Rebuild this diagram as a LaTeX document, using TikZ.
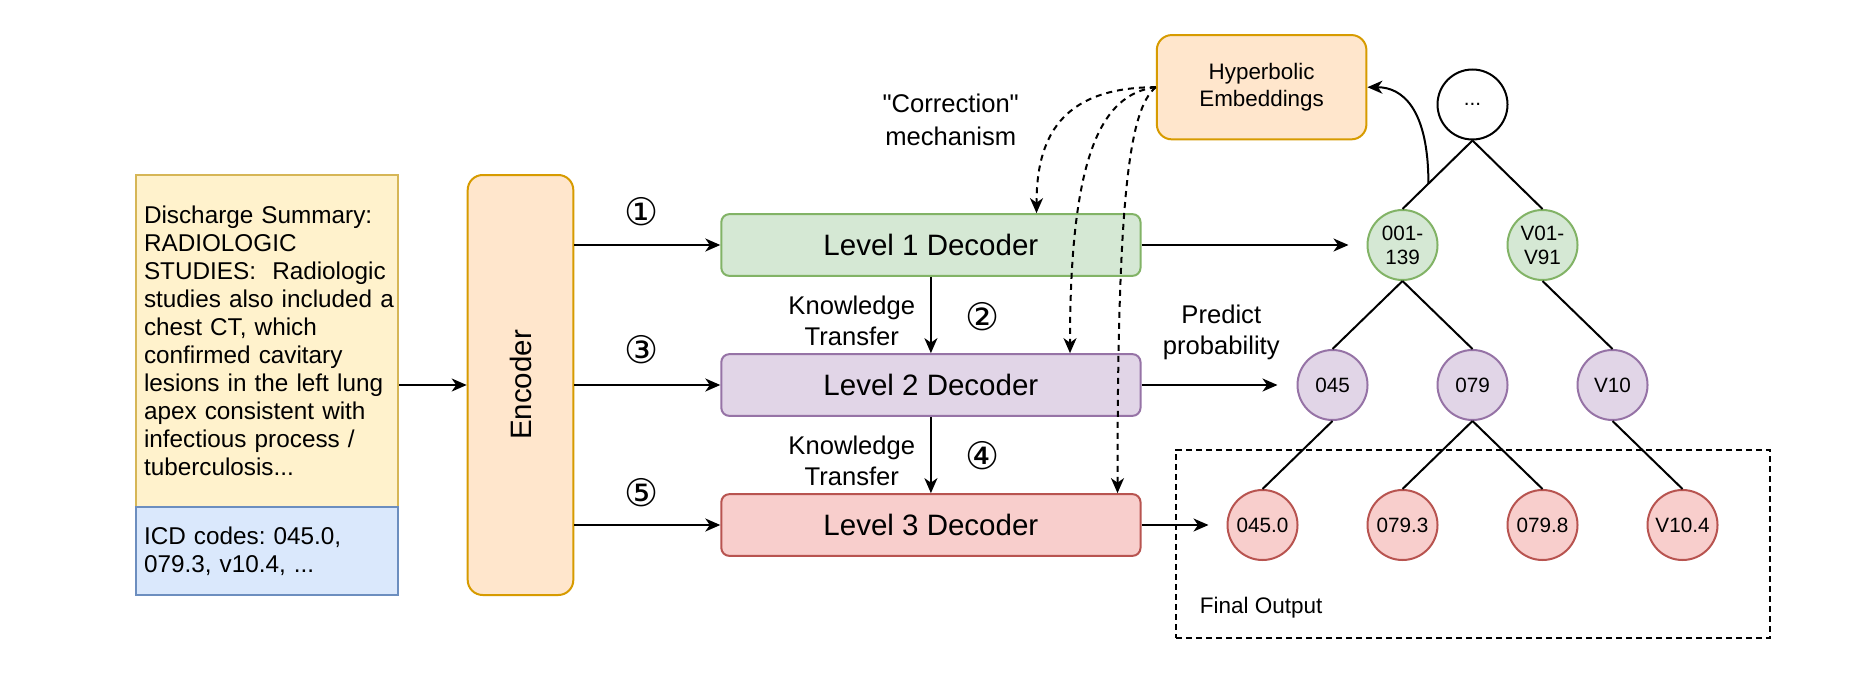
\documentclass[tikz,border=0pt]{standalone}
\usepackage{fontspec}
\setmainfont{Liberation Sans}[Ligatures=TeXOff]
\newfontfamily\circfont{DejaVu Sans}
\usetikzlibrary{arrows.meta,calc}
\definecolor{ylwF}{HTML}{FFF2CC}\definecolor{ylwD}{HTML}{D6B656}
\definecolor{bluF}{HTML}{DAE8FC}\definecolor{bluD}{HTML}{6C8EBF}
\definecolor{orgF}{HTML}{FFE6CC}\definecolor{orgD}{HTML}{D79B00}
\definecolor{grnF}{HTML}{D5E8D4}\definecolor{grnD}{HTML}{82B366}
\definecolor{purF}{HTML}{E1D5E7}\definecolor{purD}{HTML}{9673A6}
\definecolor{redF}{HTML}{F8CECC}\definecolor{redD}{HTML}{B85450}
\frenchspacing
\tikzset{
  base/.style={line width=2pt},
  arr/.style={line width=2pt,-{Stealth[length=15pt,width=13pt,inset=4.5pt]}},
  dasharr/.style={arr,dash pattern=on 6pt off 5pt},
  textbox/.style={base,draw,rectangle,text width=246pt,align=left,inner xsep=8.3pt,inner ysep=0pt,
    font=\fontsize{24.3}{28}\selectfont},
  decoder/.style={base,draw,rectangle,rounded corners=8pt,minimum width=419.2pt,minimum height=61.7pt,
    font=\fontsize{29.5}{34}\selectfont},
  tnode/.style={base,draw,circle,minimum size=70pt,inner sep=0pt,align=center,
    font=\fontsize{20.7}{24}\selectfont},
  lbl/.style={align=center,font=\fontsize{25.6}{31}\selectfont},
  circnum/.style={font=\circfont\fontsize{38}{40}\selectfont},
  edge/.style={line width=2pt},
}
\begin{document}
\begin{tikzpicture}[x=1pt,y=-1pt]
\useasboundingbox[fill=white] (0,0) rectangle (1870,680);

% input text
\node[textbox,fill=ylwF,draw=ylwD,minimum height=331.7pt] (summary) at (267,340.85)
 {Discharge Summary:\\RADIOLOGIC\\\mbox{STUDIES:\ \ Radiologic}\\\mbox{studies also included a}\\chest CT, which\\confirmed cavitary\\\mbox{lesions in the left lung}\\apex consistent with\\infectious process /\\tuberculosis...};
\node[textbox,fill=bluF,draw=bluD,minimum height=88.3pt] (icd) at (267,550.85)
 {ICD codes: 045.0,\\079.3, v10.4, ...};

% encoder
\node[base,draw=orgD,fill=orgF,rounded corners=15pt,minimum width=105.6pt,minimum height=420pt] (enc) at (520.5,385) {};
\node[rotate=90,font=\fontsize{29.5}{34}\selectfont] (enctext) at (enc.center) {Encoder};

% decoders
\node[decoder,fill=grnF,draw=grnD] (L1) at (930.9,245) {Level 1 Decoder};
\node[decoder,fill=purF,draw=purD] (L2) at (930.9,385) {Level 2 Decoder};
\node[decoder,fill=redF,draw=redD] (L3) at (930.9,525) {Level 3 Decoder};

% hyperbolic
\node[base,draw=orgD,fill=orgF,rounded corners=15pt,minimum width=209.6pt,minimum height=104.3pt,
  align=center,font=\fontsize{22.4}{26.7}\selectfont] (hyp) at (1261.6,87.2) {Hyperbolic\\Embeddings};

% final output box
\node[line width=2pt,draw,dash pattern=on 6pt off 4pt,minimum width=594.2pt,minimum height=187.5pt] (final) at (1472.9,544) {};
\node[anchor=west,font=\fontsize{22.5}{26}\selectfont] (finaltxt) at (1196.4,607.5) {Final Output};

% tree
\node[tnode,fill=white,draw=black] (dots) at (1472.5,104.5) {...};
\node[tnode,fill=grnF,draw=grnD] (n1) at (1402.5,245) {001-\\139};
\node[tnode,fill=grnF,draw=grnD] (n2) at (1542.5,245) {V01-\\V91};
\node[tnode,fill=purF,draw=purD] (a045) at (1332.5,385) {045};
\node[tnode,fill=purF,draw=purD] (a079) at (1472.5,385) {079};
\node[tnode,fill=purF,draw=purD] (v10) at (1612.5,385) {V10};
\node[tnode,fill=redF,draw=redD] (b0450) at (1262.5,525) {045.0};
\node[tnode,fill=redF,draw=redD] (b0793) at (1402.5,525) {079.3};
\node[tnode,fill=redF,draw=redD] (b0798) at (1542.5,525) {079.8};
\node[tnode,fill=redF,draw=redD] (b104) at (1682.5,525) {V10.4};

\draw[edge] (dots.south) -- (n1.north);
\draw[edge] (dots.south) -- (n2.north);
\draw[edge] (n1.south) -- (a045.north);
\draw[edge] (n1.south) -- (a079.north);
\draw[edge] (n2.south) -- (v10.north);
\draw[edge] (a045.south) -- (b0450.north);
\draw[edge] (a079.south) -- (b0793.north);
\draw[edge] (a079.south) -- (b0798.north);
\draw[edge] (v10.south) -- (b104.north);

% arrows
\draw[arr] (summary.east |- enc.west) -- (enc.west);
\draw[arr] (enc.east |- L1.west) -- (L1.west);
\draw[arr] (enc.east |- L2.west) -- (L2.west);
\draw[arr] (enc.east |- L3.west) -- (L3.west);
\draw[arr] (L1.south) -- (L2.north);
\draw[arr] (L2.south) -- (L3.north);
\draw[arr,shorten >=18pt] (L1.east) -- (n1.west);
\draw[arr,shorten >=19pt] (L2.east) -- (a045.west);
\draw[arr,shorten >=18pt] (L3.east) -- (b0450.west);

% correction curves
\coordinate (e1) at (1036.5,0 |- L1.north);
\coordinate (e2) at (1070,0 |- L2.north);
\coordinate (e3) at (1117.5,0 |- L3.north);
\draw[dasharr] (hyp.west) .. controls +(-96,0) and +(0,-74) .. (e1);
\draw[dasharr] (hyp.west) .. controls +(-56,7) and +(0,-194) .. (e2);
\draw[dasharr] (hyp.west) .. controls +(-27,22) and +(0,-294) .. (e3);

% tree -> hyperbolic
\coordinate (tap) at ($(dots.south)!0.63!(n1.north)$);
\draw[arr] (tap) .. controls +(0,-75) and +(35,0) .. (hyp.east);

% labels
\node[circnum] (num1) at (641.7,212) {①};
\node[circnum] (num3) at (641.7,350) {③};
\node[circnum] (num5) at (641.7,493) {⑤};
\node[circnum] (num2) at (982.3,316.7) {②};
\node[circnum] (num4) at (982.3,456) {④};
\node[lbl] (kt1) at (851.8,321.3) {Knowledge\\Transfer};
\node[lbl] (kt2) at (851.8,461) {Knowledge\\Transfer};
\node[lbl,font=\fontsize{25.6}{33}\selectfont] (corr) at (950.7,120) {"Correction"\\mechanism};
\node[lbl] (pred) at (1221.3,332.8) {Predict\\probability};
\end{tikzpicture}
\end{document}
